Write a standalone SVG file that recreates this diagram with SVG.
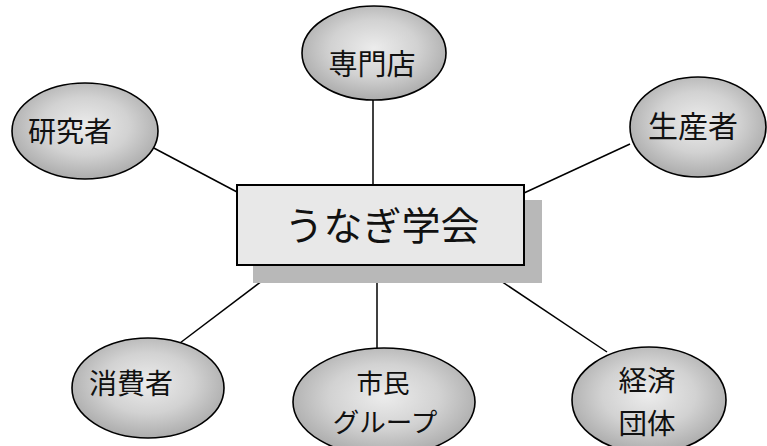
<svg xmlns="http://www.w3.org/2000/svg" width="767" height="446" viewBox="0 0 767 446">
<style>
.node ellipse{fill:url(#eg);stroke:#000;stroke-width:1.6}
.lbl{font-family:"Noto Sans CJK JP","Noto Sans CJK SC",sans-serif;fill:#111;text-anchor:middle;dominant-baseline:central}
.conn line{stroke:#000;stroke-width:1.5}
</style>
<defs>
<radialGradient id="eg" cx="50%" cy="45%" r="55%">
<stop offset="0" stop-color="#ececec"/>
<stop offset="0.55" stop-color="#d2d2d2"/>
<stop offset="1" stop-color="#acacac"/>
</radialGradient>
</defs>
<rect width="767" height="446" fill="#fff"/>
<g id="connectors" class="conn">
<line x1="373" y1="100" x2="373" y2="185"/>
<line x1="150" y1="146" x2="237" y2="192"/>
<line x1="630" y1="144" x2="524" y2="193"/>
<line x1="180" y1="343" x2="283" y2="265"/>
<line x1="377" y1="265" x2="377" y2="349"/>
<line x1="607" y1="352" x2="477" y2="265"/>
</g>
<g id="center">
<rect x="253" y="200" width="289" height="83" fill="#b8b8b8"/>
<rect x="237" y="185" width="287" height="80" fill="#e8e8e8" stroke="#000" stroke-width="2"/>
<text class="lbl" x="382" y="223" font-size="39">うなぎ学会</text>
</g>
<g id="senmonten" class="node">
<ellipse cx="374" cy="53" rx="72" ry="47"/>
<text class="lbl" x="372" y="62" font-size="29">専門店</text>
</g>
<g id="kenkyusha" class="node">
<ellipse cx="85" cy="131" rx="73" ry="48"/>
<text class="lbl" x="70" y="130" font-size="28">研究者</text>
</g>
<g id="seisansha" class="node">
<ellipse cx="698" cy="127" rx="68" ry="50"/>
<text class="lbl" x="693" y="124" font-size="30">生産者</text>
</g>
<g id="shohisha" class="node">
<ellipse cx="148" cy="388" rx="76" ry="50"/>
<text class="lbl" x="131" y="382" font-size="28">消費者</text>
</g>
<g id="shimin" class="node">
<ellipse cx="384" cy="402" rx="91" ry="54"/>
<text class="lbl" x="383" y="381" font-size="26.5">市民</text>
<text class="lbl" x="385" y="420" font-size="26.5">グループ</text>
</g>
<g id="keizai" class="node">
<ellipse cx="649" cy="400" rx="77" ry="53"/>
<text class="lbl" x="647" y="378" font-size="28.5">経済</text>
<text class="lbl" x="647" y="421" font-size="28.5">団体</text>
</g>
</svg>
